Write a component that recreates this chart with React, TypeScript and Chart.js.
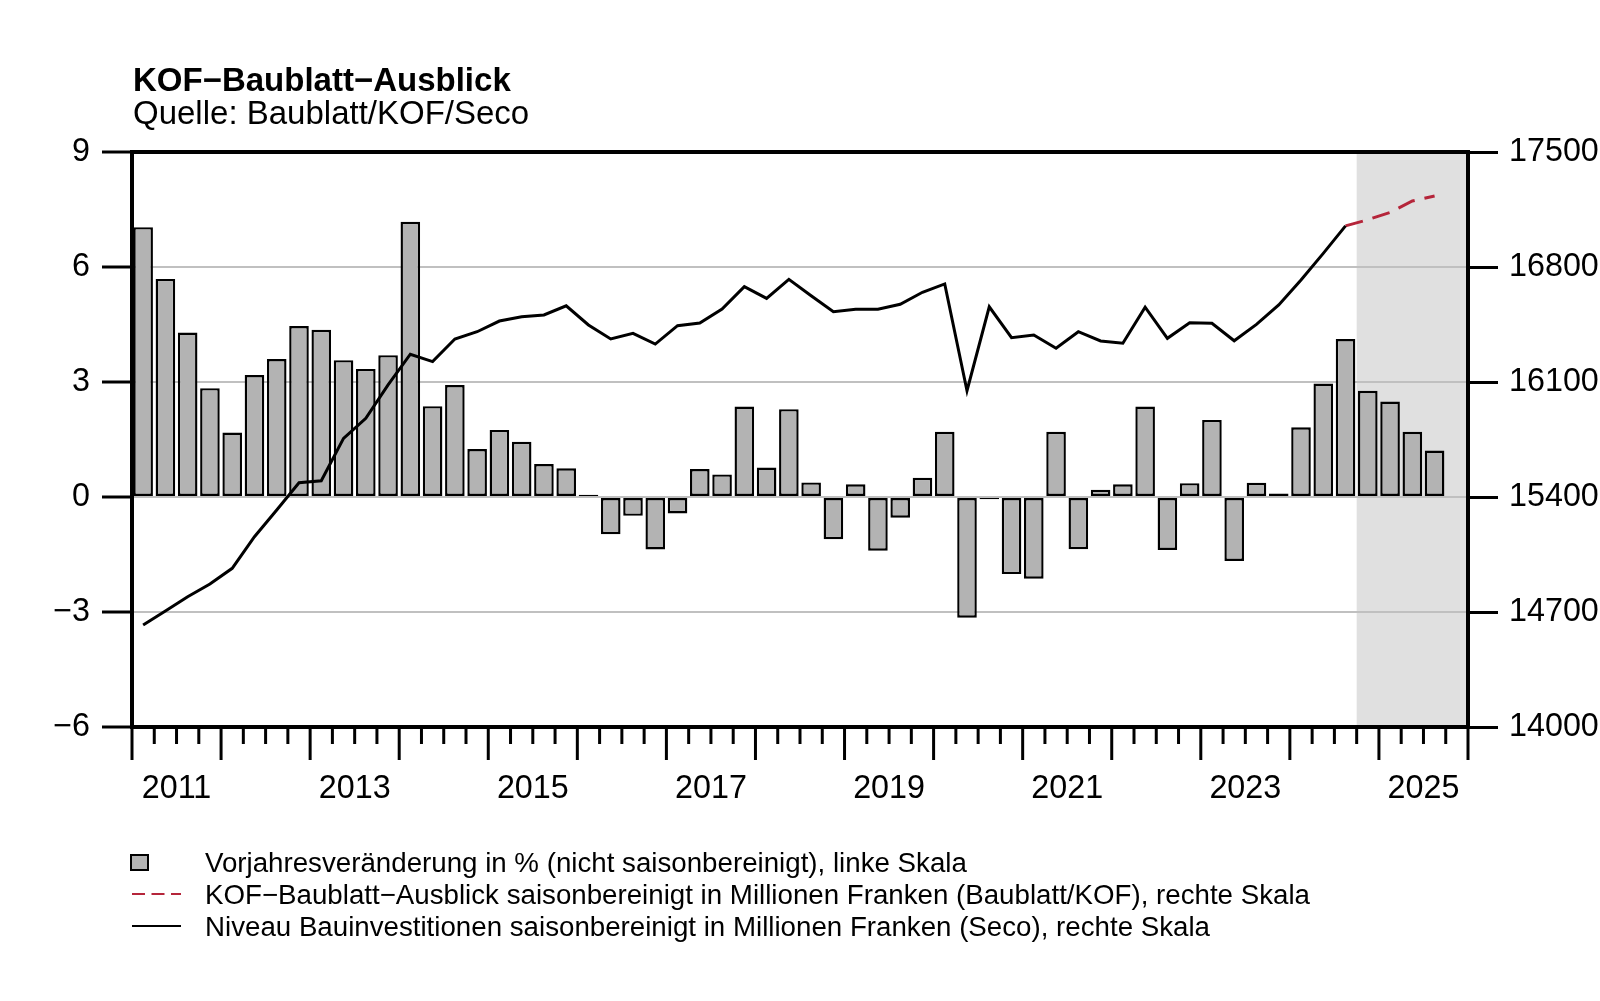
import React, { useEffect, useRef } from 'react';
import { Chart, registerables } from 'chart.js';

Chart.register(...registerables);

const FONT = '"Liberation Sans", Arimo, Arial, Helvetica, sans-serif';

// ---- categories -------------------------------------------------------
const firstYear = 2011;
const lastYear = 2025;
const quarterLabels: string[] = [];
for (let y = firstYear; y <= lastYear; y++) {
  for (let q = 1; q <= 4; q++) quarterLabels.push(`${y} Q${q}`);
}
const yearTickLabels = ['2011', '2013', '2015', '2017', '2019', '2021', '2023', '2025'];

// ---- series values ------------------------------------------------------
// Vorjahresveränderung in % (2011 Q1 .. 2025 Q3), left axis
const barValues = [
  7.04, 5.69, 4.29, 2.84, 1.68, 3.18, 3.6, 4.46, 4.36, 3.57,
  3.34, 3.7, 7.18, 2.37, 2.92, 1.25, 1.75, 1.44, 0.86, 0.75,
  0.06, -0.97, -0.49, -1.37, -0.43, 0.73, 0.59, 2.36, 0.77, 2.29,
  0.38, -1.1, 0.33, -1.4, -0.54, 0.5, 1.7, -3.15, -0.06, -2.01,
  -2.13, 1.7, -1.36, 0.19, 0.33, 2.36, -1.38, 0.36, 2.01, -1.67,
  0.37, 0.09, 1.82, 2.96, 4.12, 2.77, 2.49, 1.7, 1.21,
];

// Niveau Bauinvestitionen (Seco), Mio. CHF (2011 Q1 .. 2024 Q3), right axis
const niveauValues = [
  14621, 14706, 14793, 14870, 14966, 15158, 15321, 15487, 15499, 15757,
  15879, 16082, 16269, 16224, 16362, 16406, 16471, 16497, 16508, 16564,
  16447, 16362, 16396, 16331, 16443, 16459, 16544, 16680, 16609, 16725,
  16625, 16528, 16543, 16543, 16573, 16646, 16697, 16047, 16558, 16370,
  16386, 16305, 16406, 16350, 16336, 16555, 16366, 16461, 16457, 16351,
  16451, 16569, 16721, 16883, 17050,
];

// KOF-Baublatt-Ausblick (2024 Q3 .. 2025 Q3), right axis
const forecastStartIndex = 54;
const forecastValues = [17050, 17088, 17132, 17202, 17232];

// forecast shading starts with 2024 Q4
const shadeStartIndex = 55;

// axis tick definitions
const leftMin = -6;
const leftMax = 9;
const leftStep = 3;
const rightMin = 14000;
const rightMax = 17500;
const rightStep = 700;

const titleText = 'KOF\u2212Baublatt\u2212Ausblick';
const subtitleText = 'Quelle: Baublatt/KOF/Seco';
const legendTexts = [
  'Vorjahresveränderung in % (nicht saisonbereinigt), linke Skala',
  'KOF\u2212Baublatt\u2212Ausblick saisonbereinigt in Millionen Franken (Baublatt/KOF), rechte Skala',
  'Niveau Bauinvestitionen saisonbereinigt in Millionen Franken (Seco), rechte Skala',
];

const BAR_FILL = '#b3b3b3';
const SHADE = '#e0e0e0';
const GRID = '#c0c0c0';
const RED = '#b5253a';

const n = quarterLabels.length;
const barData: (number | null)[] = quarterLabels.map((_, i) => (i < barValues.length ? barValues[i] : null));
const niveauData: (number | null)[] = quarterLabels.map((_, i) => (i < niveauValues.length ? niveauValues[i] : null));
const forecastData: (number | null)[] = quarterLabels.map((_, i) => {
  const k = i - forecastStartIndex;
  return k >= 0 && k < forecastValues.length ? forecastValues[k] : null;
});

const decorPlugin = {
  id: 'decor',
  beforeDraw(chart: any) {
    const { ctx, chartArea: ca, scales } = chart;
    const xs = scales.x;
    const x0 = (xs.getPixelForValue(shadeStartIndex - 1) + xs.getPixelForValue(shadeStartIndex)) / 2;
    ctx.save();
    ctx.fillStyle = '#ffffff';
    ctx.fillRect(0, 0, chart.width, chart.height);
    ctx.fillStyle = SHADE;
    ctx.fillRect(x0, ca.top, ca.right - x0, ca.bottom - ca.top);
    ctx.restore();
  },
  afterDraw(chart: any) {
    const { ctx, chartArea: ca } = chart;
    ctx.save();
    // frame
    ctx.strokeStyle = '#000';
    ctx.lineWidth = 4;
    ctx.strokeRect(ca.left, ca.top, ca.right - ca.left, ca.bottom - ca.top);
    // x tick marks (quarters minor, years major)
    const w = (ca.right - ca.left) / n;
    ctx.lineWidth = 3;
    ctx.lineCap = 'butt';
    for (let k = 0; k <= n; k++) {
      const x = ca.left + k * w;
      const len = k % 4 === 0 ? 33 : 17;
      ctx.beginPath();
      ctx.moveTo(x, ca.bottom);
      ctx.lineTo(x, ca.bottom + len);
      ctx.stroke();
    }
    // titles
    ctx.fillStyle = '#000';
    ctx.textAlign = 'left';
    ctx.textBaseline = 'alphabetic';
    ctx.font = `bold 33px ${FONT}`;
    ctx.fillText(titleText, 133, 91);
    ctx.font = `33px ${FONT}`;
    ctx.fillText(subtitleText, 133, 124);
    // legend
    ctx.font = `27.7px ${FONT}`;
    const baselines = [872, 904, 936];
    legendTexts.forEach((t, i) => ctx.fillText(t, 205, baselines[i]));
    // box
    ctx.fillStyle = BAR_FILL;
    ctx.fillRect(131, 855, 17, 15);
    ctx.strokeStyle = '#000';
    ctx.lineWidth = 2;
    ctx.strokeRect(131, 855, 17, 15);
    // dashed red
    ctx.strokeStyle = RED;
    ctx.lineWidth = 2;
    ctx.setLineDash([13, 6.5]);
    ctx.beginPath();
    ctx.moveTo(132, 894);
    ctx.lineTo(181, 894);
    ctx.stroke();
    ctx.setLineDash([]);
    // black
    ctx.strokeStyle = '#000';
    ctx.beginPath();
    ctx.moveTo(132, 926);
    ctx.lineTo(181, 926);
    ctx.stroke();
    ctx.restore();
  },
};

export default function App() {
  const canvasRef = useRef<HTMLCanvasElement | null>(null);

  useEffect(() => {
    document.body.style.margin = '0';
    document.body.style.overflow = 'hidden';
    const canvas = canvasRef.current;
    if (!canvas) return;
    const tickFont = { family: FONT, size: 32.3 };
    const chart = new Chart(canvas, {
      type: 'bar',
      data: {
        labels: quarterLabels,
        datasets: [
          {
            type: 'line',
            label: legendTexts[2],
            data: niveauData,
            yAxisID: 'y1',
            borderColor: '#000',
            borderWidth: 3,
            pointRadius: 0,
            tension: 0,
            order: 0,
          } as any,
          {
            type: 'line',
            label: legendTexts[1],
            data: forecastData,
            yAxisID: 'y1',
            borderColor: RED,
            borderWidth: 3,
            borderDash: [18, 10],
            pointRadius: 0,
            tension: 0,
            order: 1,
          } as any,
          {
            type: 'bar',
            label: legendTexts[0],
            data: barData,
            yAxisID: 'y',
            backgroundColor: BAR_FILL,
            borderColor: '#000',
            borderWidth: 2.4,
            borderSkipped: false,
            barPercentage: 0.88,
            categoryPercentage: 1,
            order: 2,
          } as any,
        ],
      },
      options: {
        responsive: false,
        animation: false,
        devicePixelRatio: 1,
        layout: { padding: { top: 152, left: 0, right: 0, bottom: 0 } },
        plugins: {
          legend: { display: false },
          tooltip: { enabled: false },
          title: { display: false },
        },
        scales: {
          x: {
            type: 'category',
            offset: true,
            grid: { display: false, drawTicks: false, offset: true },
            border: { display: false },
            ticks: {
              autoSkip: false,
              maxRotation: 0,
              minRotation: 0,
              padding: 43,
              labelOffset: 1336 / n / 2,
              color: '#000',
              font: tickFont,
              callback: (_v: any, i: number) => (i % 8 === 1 ? yearTickLabels[(i - 1) / 8] : ''),
            },
            afterFit: (s: any) => {
              s.height = 274;
            },
          },
          y: {
            position: 'left',
            min: leftMin,
            max: leftMax,
            ticks: {
              stepSize: leftStep,
              padding: 12,
              color: '#000',
              font: tickFont,
              callback: (v: any) => (v < 0 ? '\u2212' + Math.abs(v) : String(v)),
            },
            grid: {
              color: (ctx: any) =>
                ctx.tick && (ctx.tick.value === leftMax || ctx.tick.value === leftMin) ? 'rgba(0,0,0,0)' : GRID,
              lineWidth: 2,
              drawTicks: true,
              tickLength: 30,
              tickColor: '#000',
              tickWidth: 3,
            },
            border: { display: false },
            afterFit: (s: any) => {
              s.width = 132;
            },
          },
          y1: {
            position: 'right',
            min: rightMin,
            max: rightMax,
            ticks: {
              stepSize: rightStep,
              padding: 11,
              color: '#000',
              font: tickFont,
              callback: (v: any) => String(v),
            },
            grid: {
              drawOnChartArea: false,
              drawTicks: true,
              tickLength: 30,
              tickColor: '#000',
              tickWidth: 3,
            },
            border: { display: false },
            afterFit: (s: any) => {
              s.width = 132;
            },
          },
        },
      } as any,
      plugins: [decorPlugin],
    });
    return () => chart.destroy();
  }, []);

  return (
    <div style={{ position: 'absolute', left: 0, top: 0, width: 1600, height: 1001, background: '#fff' }}>
      <canvas ref={canvasRef} width={1600} height={1001} style={{ display: 'block', width: 1600, height: 1001 }} />
    </div>
  );
}
